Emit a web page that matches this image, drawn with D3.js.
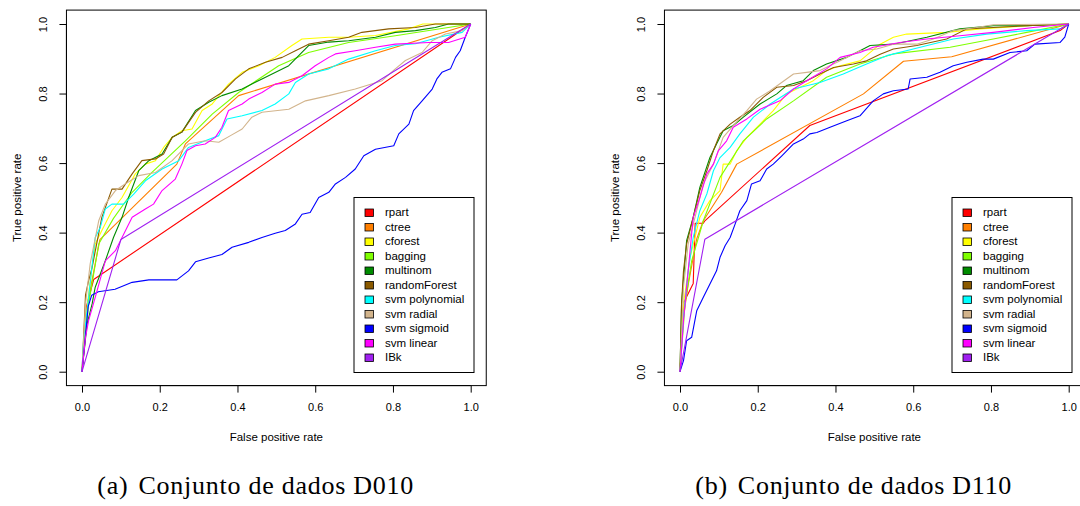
<!DOCTYPE html>
<html>
<head>
<meta charset="utf-8">
<script src="https://cdn.jsdelivr.net/npm/d3@7"></script>
<style>
  body { margin: 0; background: #fff; }
  svg { display: block; }
  .tick text { font-family: "Liberation Sans", Arial, sans-serif; font-size: 11px; fill: #000; }
  .tick line { stroke: #000; }
</style>
</head>
<body>
<svg id="chart" width="1080" height="506"></svg>
<script>
// ---- data ----
const modelNames = ["rpart", "ctree", "cforest", "bagging", "multinom", "randomForest",
  "svm polynomial", "svm radial", "svm sigmoid", "svm linear", "IBk"];
const modelColors = ["#ff0000", "#ff7f00", "#ffff00", "#7fff00", "#008b00", "#8b5a00",
  "#00ffff", "#d2b48c", "#0000ff", "#ff00ff", "#a020f0"];
const axisTicks = [0, 0.2, 0.4, 0.6, 0.8, 1.0];
const captions = ["Conjunto de dados D010", "Conjunto de dados D110"];
const captionTags = ["(a)", "(b)"];

// D010 curves [fpr, tpr]
const d010Rpart = [[0,0],[0.012,0.19],[0.03,0.265],[1,1]];
const d010Ctree = [[0,0],[0.015,0.2],[0.046,0.38],[0.244,0.597],[0.266,0.655],[0.403,0.794],[1,1]];
const d010Cforest = [[0,0],[0.009,0.147],[0.017,0.223],[0.026,0.3],[0.034,0.367],[0.051,0.406],[0.077,0.463],[0.103,0.501],[0.137,0.569],[0.163,0.597],[0.189,0.607],[0.21,0.645],[0.232,0.674],[0.257,0.693],[0.283,0.698],[0.309,0.751],[0.335,0.77],[0.377,0.827],[0.412,0.861],[0.455,0.88],[0.497,0.904],[0.54,0.938],[0.566,0.957],[0.635,0.962],[0.686,0.962],[0.755,0.967],[0.84,0.986],[0.877,1],[1,1]];
const d010Bagging = [[0,0],[0.017,0.195],[0.043,0.367],[0.081,0.441],[0.129,0.516],[0.18,0.573],[0.266,0.664],[0.335,0.741],[0.403,0.803],[0.506,0.88],[0.583,0.918],[0.686,0.947],[0.806,0.966],[1,1]];
const d010Multinom = [[0,0],[0.013,0.137],[0.026,0.195],[0.034,0.243],[0.06,0.319],[0.081,0.386],[0.103,0.444],[0.12,0.501],[0.146,0.578],[0.172,0.607],[0.206,0.626],[0.232,0.674],[0.257,0.689],[0.292,0.751],[0.326,0.775],[0.36,0.794],[0.412,0.813],[0.463,0.842],[0.532,0.88],[0.583,0.938],[0.635,0.948],[0.686,0.952],[0.755,0.962],[0.806,0.976],[0.858,0.981],[0.909,0.99],[0.943,1],[1,1]];
const d010RandomForest = [[0,0],[0.009,0.22],[0.017,0.262],[0.026,0.3],[0.051,0.444],[0.077,0.525],[0.103,0.525],[0.129,0.569],[0.154,0.607],[0.189,0.612],[0.21,0.626],[0.232,0.674],[0.257,0.689],[0.292,0.746],[0.326,0.779],[0.36,0.803],[0.395,0.842],[0.429,0.871],[0.472,0.89],[0.515,0.904],[0.549,0.923],[0.583,0.942],[0.635,0.952],[0.686,0.962],[0.72,0.976],[0.789,0.986],[0.858,0.99],[0.909,1],[1,1]];
const d010SvmPoly = [[0,0],[0.004,0.089],[0.017,0.214],[0.034,0.386],[0.047,0.415],[0.06,0.468],[0.077,0.482],[0.107,0.482],[0.133,0.511],[0.163,0.549],[0.206,0.583],[0.249,0.607],[0.274,0.645],[0.317,0.664],[0.352,0.679],[0.373,0.727],[0.412,0.736],[0.463,0.751],[0.497,0.77],[0.532,0.799],[0.549,0.832],[0.583,0.856],[0.635,0.871],[0.686,0.899],[0.755,0.923],[0.806,0.938],[0.858,0.943],[0.918,0.962],[0.978,0.976],[1,1]];
const d010SvmRadial = [[0,0],[0.009,0.195],[0.021,0.31],[0.043,0.434],[0.06,0.482],[0.086,0.521],[0.111,0.54],[0.146,0.564],[0.189,0.573],[0.232,0.607],[0.274,0.655],[0.317,0.664],[0.352,0.66],[0.382,0.679],[0.412,0.698],[0.437,0.732],[0.463,0.746],[0.532,0.755],[0.575,0.779],[0.635,0.794],[0.703,0.813],[0.772,0.837],[0.806,0.871],[0.832,0.895],[0.875,0.918],[0.901,0.952],[0.935,0.971],[0.978,0.981],[1,1]];
const d010SvmSigmoid = [[0,0],[0.016,0.188],[0.025,0.22],[0.042,0.23],[0.085,0.237],[0.129,0.257],[0.172,0.264],[0.244,0.264],[0.274,0.29],[0.292,0.316],[0.326,0.327],[0.36,0.337],[0.386,0.358],[0.429,0.372],[0.463,0.386],[0.497,0.398],[0.523,0.406],[0.549,0.425],[0.566,0.453],[0.587,0.458],[0.609,0.501],[0.635,0.516],[0.652,0.54],[0.678,0.559],[0.703,0.583],[0.725,0.621],[0.755,0.64],[0.802,0.65],[0.815,0.684],[0.841,0.712],[0.853,0.751],[0.875,0.779],[0.901,0.813],[0.913,0.842],[0.926,0.861],[0.948,0.871],[0.961,0.904],[0.973,0.923],[0.986,0.962],[1,1]];
const d010SvmLinear = [[0,0],[0.009,0.099],[0.017,0.147],[0.034,0.214],[0.06,0.319],[0.086,0.348],[0.103,0.386],[0.129,0.444],[0.163,0.468],[0.184,0.482],[0.206,0.521],[0.24,0.554],[0.257,0.597],[0.27,0.636],[0.292,0.65],[0.317,0.655],[0.343,0.674],[0.36,0.703],[0.377,0.751],[0.412,0.77],[0.429,0.784],[0.463,0.803],[0.497,0.827],[0.532,0.832],[0.566,0.851],[0.6,0.88],[0.635,0.904],[0.652,0.914],[0.703,0.923],[0.755,0.933],[0.806,0.942],[0.892,0.947],[0.943,0.947],[0.986,0.962],[1,1]];
const d010IBk = [[0,0],[0.1,0.38],[1,1]];

// D110 curves [fpr, tpr]
const d110Rpart = [[0,0],[0.01,0.2],[0.034,0.254],[0.039,0.427],[0.06,0.427],[0.064,0.434],[0.334,0.708],[0.978,0.981],[1,1]];
const d110Ctree = [[0,0],[0.008,0.15],[0.021,0.25],[0.043,0.382],[0.06,0.434],[0.107,0.516],[0.146,0.597],[0.472,0.799],[0.575,0.893],[0.699,0.906],[1,1]];
const d110Cforest = [[0,0],[0.009,0.195],[0.026,0.329],[0.051,0.444],[0.077,0.492],[0.103,0.521],[0.111,0.597],[0.129,0.597],[0.146,0.636],[0.172,0.674],[0.206,0.712],[0.24,0.751],[0.274,0.799],[0.309,0.818],[0.343,0.837],[0.377,0.866],[0.412,0.88],[0.463,0.894],[0.515,0.942],[0.549,0.962],[0.583,0.971],[0.686,0.976],[0.772,0.986],[0.892,0.995],[1,1]];
const d110Bagging = [[0,0],[0.013,0.195],[0.03,0.319],[0.06,0.434],[0.103,0.559],[0.163,0.664],[0.223,0.727],[0.292,0.779],[0.377,0.847],[0.463,0.885],[0.549,0.914],[0.695,0.933],[0.806,0.957],[0.892,0.976],[1,1]];
const d110Multinom = [[0,0],[0.004,0.195],[0.017,0.377],[0.034,0.444],[0.051,0.53],[0.077,0.616],[0.094,0.655],[0.111,0.693],[0.137,0.708],[0.163,0.732],[0.206,0.77],[0.249,0.799],[0.274,0.823],[0.317,0.837],[0.343,0.866],[0.377,0.885],[0.429,0.904],[0.463,0.923],[0.489,0.938],[0.549,0.942],[0.635,0.962],[0.72,0.986],[0.806,0.995],[0.892,0.995],[1,1]];
const d110RandomForest = [[0,0],[0.004,0.195],[0.009,0.29],[0.017,0.367],[0.034,0.444],[0.051,0.521],[0.069,0.578],[0.086,0.636],[0.103,0.684],[0.129,0.712],[0.154,0.732],[0.18,0.751],[0.214,0.789],[0.249,0.818],[0.292,0.823],[0.326,0.837],[0.36,0.856],[0.395,0.875],[0.446,0.885],[0.48,0.894],[0.515,0.913],[0.549,0.928],[0.609,0.938],[0.686,0.957],[0.738,0.986],[0.806,0.99],[0.892,0.995],[1,1]];
const d110SvmPoly = [[0,0],[0.009,0.156],[0.021,0.29],[0.034,0.386],[0.051,0.463],[0.069,0.511],[0.086,0.578],[0.103,0.616],[0.129,0.645],[0.154,0.684],[0.189,0.732],[0.232,0.77],[0.292,0.813],[0.36,0.832],[0.42,0.856],[0.48,0.885],[0.532,0.909],[0.618,0.933],[0.703,0.957],[0.789,0.971],[0.892,0.981],[0.978,0.986],[1,1]];
const d110SvmRadial = [[0,0],[0.009,0.243],[0.021,0.367],[0.043,0.463],[0.06,0.54],[0.086,0.597],[0.111,0.674],[0.137,0.708],[0.172,0.751],[0.197,0.784],[0.232,0.808],[0.274,0.842],[0.292,0.856],[0.326,0.861],[0.36,0.866],[0.412,0.894],[0.463,0.923],[0.506,0.928],[0.549,0.942],[0.609,0.942],[0.652,0.957],[0.703,0.981],[0.763,0.99],[0.806,0.998],[1,1]];
const d110SvmSigmoid = [[0,0],[0.009,0.032],[0.017,0.089],[0.03,0.099],[0.043,0.175],[0.06,0.214],[0.077,0.252],[0.094,0.29],[0.103,0.329],[0.116,0.362],[0.129,0.386],[0.142,0.425],[0.154,0.463],[0.172,0.492],[0.184,0.54],[0.206,0.549],[0.223,0.583],[0.24,0.597],[0.262,0.621],[0.292,0.655],[0.317,0.669],[0.334,0.684],[0.352,0.688],[0.386,0.703],[0.429,0.722],[0.463,0.736],[0.497,0.779],[0.523,0.799],[0.549,0.808],[0.587,0.813],[0.592,0.842],[0.635,0.847],[0.669,0.861],[0.703,0.88],[0.738,0.89],[0.78,0.899],[0.806,0.899],[0.849,0.918],[0.892,0.923],[0.913,0.942],[0.978,0.947],[0.99,0.962],[1,1]];
const d110SvmLinear = [[0,0],[0.009,0.147],[0.021,0.29],[0.034,0.444],[0.051,0.501],[0.069,0.569],[0.086,0.597],[0.099,0.636],[0.12,0.664],[0.137,0.703],[0.172,0.727],[0.206,0.755],[0.257,0.779],[0.292,0.813],[0.326,0.837],[0.377,0.871],[0.412,0.904],[0.463,0.918],[0.497,0.933],[0.566,0.947],[0.635,0.957],[0.72,0.966],[0.806,0.976],[0.909,0.99],[1,1]];
const d110IBk = [[0,0],[0.064,0.381],[1,1]];

const d010Curves = [d010Rpart, d010Ctree, d010Cforest, d010Bagging, d010Multinom, d010RandomForest,
  d010SvmPoly, d010SvmRadial, d010SvmSigmoid, d010SvmLinear, d010IBk];
const d110Curves = [d110Rpart, d110Ctree, d110Cforest, d110Bagging, d110Multinom, d110RandomForest,
  d110SvmPoly, d110SvmRadial, d110SvmSigmoid, d110SvmLinear, d110IBk];

// ---- drawing ----
const svg = d3.select("#chart");
const font = '"Liberation Sans", Arial, sans-serif';

function drawPanel(curves, x0, x1, legendX, idx) {
  // R style: axis range extended by 4% each side
  const x = d3.scaleLinear().domain([0, 1]).range([x0, x1]);
  const y = d3.scaleLinear().domain([0, 1]).range([371.7, 24]);
  const g = svg.append("g");

  const bx0 = x(-0.04), bx1 = x(1.04), by0 = y(-0.04), by1 = y(1.04);

  const line = d3.line().x(d => x(d[0])).y(d => y(d[1]));
  curves.forEach((c, i) => {
    g.append("path")
      .datum(c)
      .attr("d", line)
      .attr("fill", "none")
      .attr("stroke", modelColors[i])
      .attr("stroke-width", 1.1)
      .attr("stroke-linejoin", "round");
  });

  g.append("rect")
    .attr("x", bx0).attr("y", by1)
    .attr("width", bx1 - bx0).attr("height", by0 - by1)
    .attr("fill", "none").attr("stroke", "#000").attr("stroke-width", 1);

  const xAxis = g.append("g")
    .attr("transform", "translate(0," + by0 + ")")
    .call(d3.axisBottom(x).tickValues(axisTicks).tickFormat(d3.format(".1f")).tickSize(7).tickPadding(11));
  xAxis.select(".domain").attr("d", "M" + x(0) + ",0H" + x(1)).attr("stroke", "#000");

  const yAxis = g.append("g")
    .attr("transform", "translate(" + bx0 + ",0)")
    .call(d3.axisLeft(y).tickValues(axisTicks).tickFormat(d3.format(".1f")).tickSize(7));
  yAxis.select(".domain").attr("d", "M0," + y(0) + "V" + y(1)).attr("stroke", "#000");
  yAxis.selectAll(".tick text")
    .attr("x", 0).attr("dy", null)
    .attr("transform", "translate(-22,0) rotate(-90)")
    .attr("text-anchor", "middle")
    .attr("dominant-baseline", "middle");

  g.append("text")
    .attr("x", (x(0) + x(1)) / 2).attr("y", 441)
    .attr("text-anchor", "middle")
    .style("font-family", font).style("font-size", "11.5px")
    .text("False positive rate");

  g.append("text")
    .attr("transform", "translate(" + (bx0 - 45) + "," + ((y(0) + y(1)) / 2) + ") rotate(-90)")
    .attr("text-anchor", "middle")
    .style("font-family", font).style("font-size", "11.5px")
    .text("True positive rate");

  // legend
  const lg = g.append("g");
  lg.append("rect")
    .attr("x", legendX).attr("y", 197.5)
    .attr("width", 120).attr("height", 175)
    .attr("fill", "#fff").attr("stroke", "#000").attr("stroke-width", 1);
  modelNames.forEach((name, i) => {
    const ry = 213 + i * 14.5;
    lg.append("rect")
      .attr("x", legendX + 11).attr("y", ry - 4)
      .attr("width", 8.5).attr("height", 7.5)
      .attr("fill", modelColors[i]).attr("stroke", "#000").attr("stroke-width", 0.8);
    lg.append("text")
      .attr("x", legendX + 31).attr("y", ry)
      .attr("dominant-baseline", "middle")
      .style("font-family", font).style("font-size", "11.5px")
      .text(name);
  });

  // caption
  const cap = svg.append("text")
    .attr("x", (x(0) + x(1)) / 2 - 21).attr("y", 494)
    .attr("text-anchor", "middle")
    .attr("textLength", 316).attr("lengthAdjust", "spacing")
    .style("font-family", '"Liberation Serif", "DejaVu Serif", serif')
    .style("font-size", "26px");
  cap.append("tspan").text(captionTags[idx]);
  cap.append("tspan").attr("dx", 10).text(captions[idx]);
}

drawPanel(d010Curves, 82, 470.7, 354, 0);
drawPanel(d110Curves, 680, 1068.7, 952, 1);
</script>
</body>
</html>
